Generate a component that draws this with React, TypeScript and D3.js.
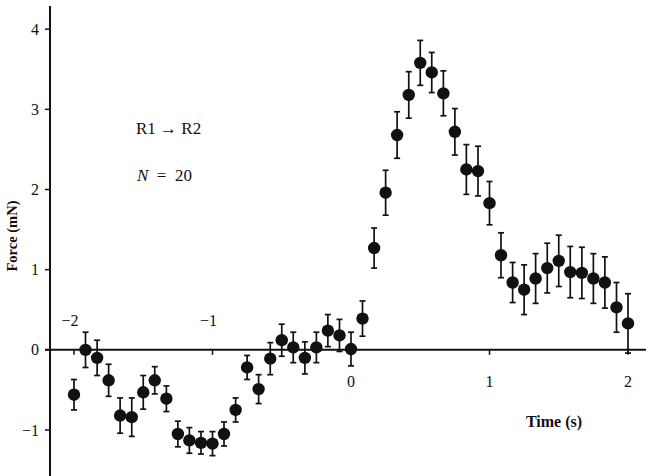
import React, { useEffect, useRef } from "react";
import * as d3 from "d3";

// time of each sample (s), one every 1/12 s
const times = [
  -2.0, -1.917, -1.833, -1.75, -1.667, -1.583, -1.5, -1.417, -1.333, -1.25,
  -1.167, -1.083, -1.0, -0.917, -0.833, -0.75, -0.667, -0.583, -0.5, -0.417,
  -0.333, -0.25, -0.167, -0.083, 0.0, 0.083, 0.167, 0.25, 0.333, 0.417, 0.5,
  0.583, 0.667, 0.75, 0.833, 0.917, 1.0, 1.083, 1.167, 1.25, 1.333, 1.417,
  1.5, 1.583, 1.667, 1.75, 1.833, 1.917, 2.0,
];

// mean force (mN)
const force = [
  -0.56, 0.0, -0.1, -0.38, -0.82, -0.84, -0.53, -0.38, -0.61, -1.05, -1.13,
  -1.16, -1.17, -1.05, -0.75, -0.22, -0.49, -0.11, 0.12, 0.03, -0.1, 0.03,
  0.24, 0.18, 0.01, 0.39, 1.27, 1.96, 2.68, 3.18, 3.58, 3.46, 3.2, 2.72, 2.25,
  2.23, 1.83, 1.18, 0.84, 0.75, 0.89, 1.02, 1.11, 0.97, 0.96, 0.89, 0.84,
  0.53, 0.33,
];

// error bar half-height (mN)
const errors = [
  0.19, 0.22, 0.22, 0.2, 0.22, 0.24, 0.21, 0.17, 0.16, 0.16, 0.16, 0.14, 0.15,
  0.15, 0.15, 0.15, 0.18, 0.2, 0.2, 0.19, 0.2, 0.19, 0.2, 0.2, 0.21, 0.22,
  0.25, 0.28, 0.29, 0.29, 0.28, 0.25, 0.28, 0.29, 0.31, 0.31, 0.27, 0.28,
  0.25, 0.31, 0.31, 0.31, 0.32, 0.32, 0.32, 0.31, 0.32, 0.31, 0.37,
];

const xTicks = [-2, -1, 0, 1, 2];
const yTicks = [-1, 0, 1, 2, 3, 4];

const minus = (v: number) => String(v).replace("-", "−");

const App = () => {
  const ref = useRef<SVGSVGElement>(null);

  useEffect(() => {
    const svg = d3.select(ref.current);
    svg.selectAll("*").remove();

    const font = "'Liberation Serif', 'DejaVu Serif', serif";
    const ink = "#111";

    const x = d3.scaleLinear().domain([-2, 2]).range([74, 628]);
    const y = d3.scaleLinear().domain([-1, 4]).range([430, 29.2]);
    const axisX = 50;
    const zeroY = y(0);

    // y axis
    svg
      .append("line")
      .attr("x1", axisX)
      .attr("x2", axisX)
      .attr("y1", 6)
      .attr("y2", 476)
      .attr("stroke", ink)
      .attr("stroke-width", 2);

    const gy = svg.append("g");
    yTicks.forEach((v) => {
      gy.append("line")
        .attr("x1", axisX - 5)
        .attr("x2", axisX)
        .attr("y1", y(v))
        .attr("y2", y(v))
        .attr("stroke", ink)
        .attr("stroke-width", 1.5);
      gy.append("text")
        .attr("x", axisX - 11)
        .attr("y", y(v))
        .attr("dy", "0.35em")
        .attr("text-anchor", "end")
        .attr("font-family", font)
        .attr("font-size", 16)
        .attr("fill", ink)
        .text(minus(v));
    });

    // x axis through zero
    svg
      .append("line")
      .attr("x1", 45)
      .attr("x2", 646)
      .attr("y1", zeroY)
      .attr("y2", zeroY)
      .attr("stroke", ink)
      .attr("stroke-width", 2);

    const gx = svg.append("g");
    xTicks.forEach((t) => {
      gx.append("line")
        .attr("x1", x(t))
        .attr("x2", x(t))
        .attr("y1", zeroY)
        .attr("y2", zeroY + 5)
        .attr("stroke", ink)
        .attr("stroke-width", 1.5);
      const neg = t < 0;
      gx.append("text")
        .attr("x", x(t) + (neg ? -4 : 0))
        .attr("y", neg ? zeroY - 24 : zeroY + 37)
        .attr("text-anchor", "middle")
        .attr("font-family", font)
        .attr("font-size", 16)
        .attr("fill", ink)
        .text(minus(t));
    });

    // error bars
    const bars = svg.append("g").attr("stroke", ink).attr("stroke-width", 1.7);
    times.forEach((t, i) => {
      const cx = x(t);
      const top = y(force[i] + errors[i]);
      const bot = y(force[i] - errors[i]);
      bars.append("line").attr("x1", cx).attr("x2", cx).attr("y1", top).attr("y2", bot);
      bars.append("line").attr("x1", cx - 3).attr("x2", cx + 3).attr("y1", top).attr("y2", top);
      bars.append("line").attr("x1", cx - 3).attr("x2", cx + 3).attr("y1", bot).attr("y2", bot);
    });

    // mean points
    svg
      .append("g")
      .selectAll("circle")
      .data(times)
      .enter()
      .append("circle")
      .attr("cx", (d) => x(d))
      .attr("cy", (d, i) => y(force[i]))
      .attr("r", 6.2)
      .attr("fill", ink);

    // axis titles
    svg
      .append("text")
      .attr("transform", "translate(17, 236) rotate(-90)")
      .attr("text-anchor", "middle")
      .attr("font-family", font)
      .attr("font-size", 14.5)
      .attr("font-weight", "bold")
      .attr("fill", ink)
      .text("Force (mN)");

    svg
      .append("text")
      .attr("x", 554)
      .attr("y", 427)
      .attr("text-anchor", "middle")
      .attr("font-family", font)
      .attr("font-size", 16)
      .attr("font-weight", "bold")
      .attr("fill", ink)
      .text("Time (s)");

    // annotations
    svg
      .append("text")
      .attr("x", 136)
      .attr("y", 134)
      .attr("font-family", font)
      .attr("font-size", 17)
      .attr("fill", ink)
      .text("R1 → R2");

    const n = svg
      .append("text")
      .attr("x", 137)
      .attr("y", 181)
      .attr("font-family", font)
      .attr("font-size", 17)
      .attr("fill", ink);
    n.append("tspan").attr("font-style", "italic").text("N");
    n.append("tspan").text("\u2002=\u200220");
  }, []);

  return (
    <svg
      ref={ref}
      width={646}
      height={476}
      style={{ position: "absolute", left: 0, top: 0, background: "white" }}
    />
  );
};

export default App;
